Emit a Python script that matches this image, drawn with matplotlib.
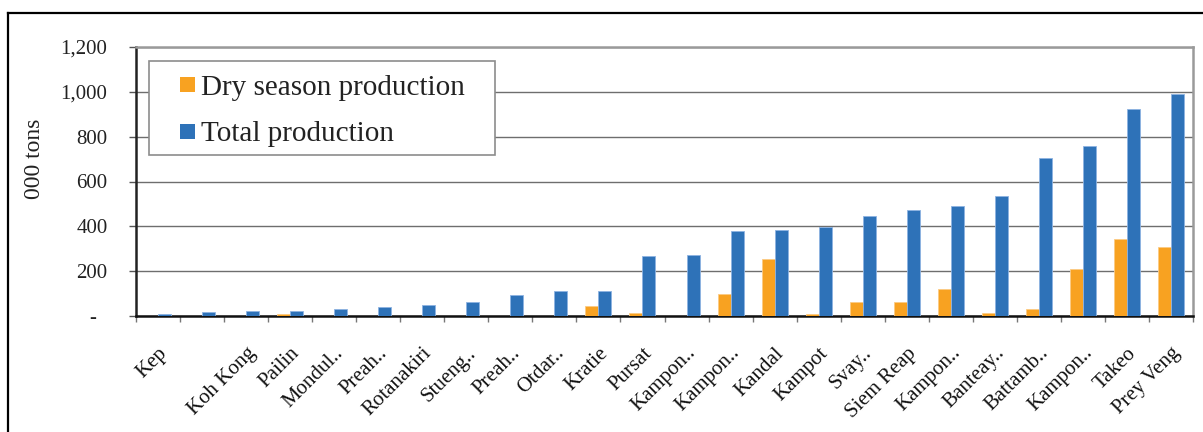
import matplotlib
matplotlib.use("Agg")
import matplotlib.pyplot as plt
import matplotlib.transforms as mtransforms
import numpy as np
from matplotlib.lines import Line2D
from matplotlib.patches import Rectangle

categories = ["Kep", "", "Koh Kong", "Pailin", "Mondul..", "Preah..", "Rotanakiri",
              "Stueng..", "Preah..", "Otdar..", "Kratie", "Pursat", "Kampon..",
              "Kampon..", "Kandal", "Kampot", "Svay..", "Siem Reap", "Kampon..",
              "Banteay..", "Battamb..", "Kampon..", "Takeo", "Prey Veng"]
dry_season = [0, 0, 0, 9, 0, 0, 0, 0, 0, 0, 45, 13, 0, 98, 254, 10, 63, 63,
              121, 13, 31, 210, 342, 309]
total = [10, 18, 22, 22, 32, 39, 49, 63, 94, 112, 112, 268, 272, 379, 384,
         399, 445, 473, 490, 536, 704, 760, 922, 990]
series_names = ["Dry season production", "Total production"]
yticks = [0, 200, 400, 600, 800, 1000, 1200]
ytick_labels = ["-  ", "200", "400", "600", "800", "1,000", "1,200"]

plt.rcParams['font.family'] = ['Liberation Serif', 'DejaVu Serif']

W, H = 1203, 432
fig = plt.figure(figsize=(W / 100, H / 100), dpi=100)


def fx(px):
    return px / W


def fy(py):
    return 1 - py / H


# outer frame
fig.add_artist(Line2D([fx(8), 1.0], [fy(13), fy(13)], color='black', lw=1.6,
                      transform=fig.transFigure))
fig.add_artist(Line2D([fx(8), fx(8)], [0, fy(13)], color='black', lw=1.6,
                      transform=fig.transFigure))

left, right, top, bottom = 136, 1193, 47, 316
ax = fig.add_axes([fx(left), fy(bottom), (right - left) / W, (bottom - top) / H])

x = np.arange(len(categories))
bw = 0.295
orange = '#F8A221'
blue = '#2E72B8'
ax.bar(x - bw / 2, dry_season, width=bw, color=orange, edgecolor='#FCCB84', linewidth=0.6,
       zorder=3)
ax.bar(x + bw / 2, total, width=bw, color=blue, edgecolor='#8DB3E2', linewidth=0.6,
       zorder=3)

ax.set_xlim(-0.5, len(categories) - 0.5)
ax.set_ylim(0, 1200)
ax.set_yticks(yticks)
ax.set_yticklabels(ytick_labels, fontsize=15, color='#222222')
ax.yaxis.grid(True, color='#6E6E6E', linewidth=1.0, zorder=0)
ax.set_axisbelow(True)
ax.tick_params(axis='y', length=5, width=1, color='#555555', pad=15.5)

ax.set_xticks(x)
ax.set_xticklabels(categories, rotation=45, ha='right', rotation_mode='anchor',
                   fontsize=15, color='#111111')
shift = mtransforms.ScaledTranslation(-4 / 100, 0, fig.dpi_scale_trans)
for lab in ax.get_xticklabels():
    lab.set_transform(lab.get_transform() + shift)
ax.set_xticks(np.arange(-0.5, len(categories), 1.0), minor=True)
ax.tick_params(axis='x', which='major', length=0, pad=20)
ax.tick_params(axis='x', which='minor', length=4.5, width=1, color='#777777')

for s in ['top', 'right']:
    ax.spines[s].set_color('#9A9A9A')
    ax.spines[s].set_linewidth(1.8)
ax.spines['left'].set_color('#222222')
ax.spines['left'].set_linewidth(1.8)
ax.spines['bottom'].set_color('#111111')
ax.spines['bottom'].set_linewidth(1.8)

fig.text(fx(35), fy(159), "000 tons", rotation=90, ha='center', va='center',
         fontsize=17, color='#222222')

# legend box drawn manually
fig.add_artist(Rectangle((fx(149), fy(155)), fx(495) - fx(149), fy(61) - fy(155),
                         transform=fig.transFigure, facecolor='white',
                         edgecolor='#8C8C8C', linewidth=1.2, zorder=5))
for name, col, yc, ybase in [(series_names[0], orange, 84, 95),
                             (series_names[1], blue, 131, 141)]:
    fig.add_artist(Rectangle((fx(180), fy(yc + 7.5)), fx(195) - fx(180), fy(yc - 7.5) - fy(yc + 7.5),
                             transform=fig.transFigure, facecolor=col, edgecolor='none',
                             zorder=6))
    fig.text(fx(201), fy(ybase), name, ha='left', va='baseline', fontsize=21,
             color='#222222', zorder=6)

fig.savefig("out.png", dpi=100)
